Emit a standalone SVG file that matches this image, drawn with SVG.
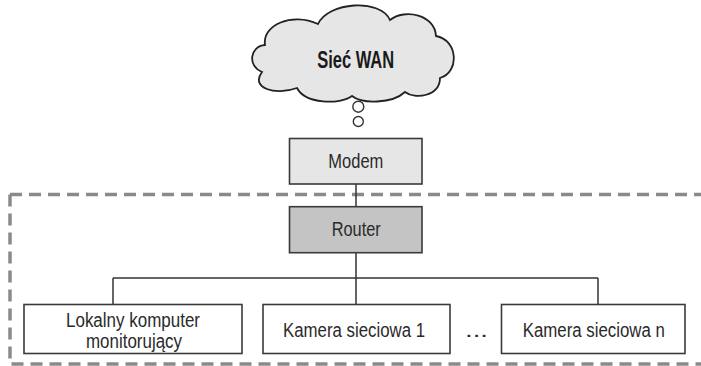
<svg xmlns="http://www.w3.org/2000/svg" width="701" height="366" viewBox="0 0 701 366">
<style>
  .t { font-family: "Liberation Sans", Arial, sans-serif; font-size: 20px; fill: #2a2a2a; text-anchor: middle; }
  .b { stroke: #3a3a3a; stroke-width: 1.6; }
  .conn { stroke: #333; stroke-width: 1.5; fill: none; }
  .dash { stroke: #8a8a8a; stroke-width: 3.5; fill: none; stroke-dasharray: 12 7; }
</style>
<rect width="701" height="366" fill="#ffffff"/>
<g id="boundary">
  <path class="dash" d="M10,194.5 H701"/>
  <path class="dash" d="M10,194.5 V364 H701"/>
</g>
<g id="connectors">
  <path class="conn" d="M356,184 V207"/>
  <path class="conn" d="M356,253 V278"/>
  <path class="conn" d="M113,278 H598"/>
  <path class="conn" d="M113,278 V305"/>
  <path class="conn" d="M356,278 V305"/>
  <path class="conn" d="M598,278 V305"/>
</g>
<g id="wan">
  <path d="M265,45 C262,25 292,12 318,24 C328,2 380,-2 390,20 C405,8 435,15 436,36 C458,40 460,72 440,78 C440,96 415,100 405,92 C392,104 362,104 352,96 C340,105 305,104 297,88 C275,96 250,88 262,72 C247,66 250,46 265,45 Z" fill="#e6e6e6" stroke="#222" stroke-width="1.8"/>
  <text x="355.7" y="68.3" font-family="Liberation Sans, Arial, sans-serif" font-size="23" font-weight="bold" fill="#1a1a1a" text-anchor="middle" textLength="77" lengthAdjust="spacingAndGlyphs">Sieć WAN</text>
  <circle cx="358.3" cy="106.7" r="5.5" fill="#ffffff" stroke="#333" stroke-width="1.4"/>
  <circle cx="358.3" cy="121.5" r="5" fill="#ffffff" stroke="#333" stroke-width="1.4"/>
</g>
<g id="modem">
  <rect class="b" x="289.5" y="138.5" width="132.5" height="45.5" fill="#e6e6e6"/>
  <text class="t" x="355.8" y="168.3" textLength="55" lengthAdjust="spacingAndGlyphs">Modem</text>
</g>
<g id="router">
  <rect class="b" x="289.5" y="206.7" width="132.5" height="46" fill="#c4c4c4"/>
  <text class="t" x="356.2" y="235.7" textLength="49" lengthAdjust="spacingAndGlyphs">Router</text>
</g>
<g id="computer">
  <rect class="b" x="24" y="304.5" width="218" height="49" fill="#ffffff"/>
  <text class="t" x="133" y="327.3" textLength="134" lengthAdjust="spacingAndGlyphs">Lokalny komputer</text>
  <text class="t" x="134" y="348.3" textLength="96" lengthAdjust="spacingAndGlyphs">monitorujący</text>
</g>
<g id="camera1">
  <rect class="b" x="263" y="304.5" width="187" height="49" fill="#ffffff"/>
  <text class="t" x="354" y="336.7" textLength="142" lengthAdjust="spacingAndGlyphs">Kamera sieciowa 1</text>
</g>
<g id="dots">
  <text class="t" x="476.5" y="336.7" textLength="23" lengthAdjust="spacingAndGlyphs">...</text>
</g>
<g id="cameran">
  <rect class="b" x="501.5" y="304.5" width="183.5" height="49" fill="#ffffff"/>
  <text class="t" x="593.8" y="336.7" textLength="142.3" lengthAdjust="spacingAndGlyphs">Kamera sieciowa n</text>
</g>
</svg>
